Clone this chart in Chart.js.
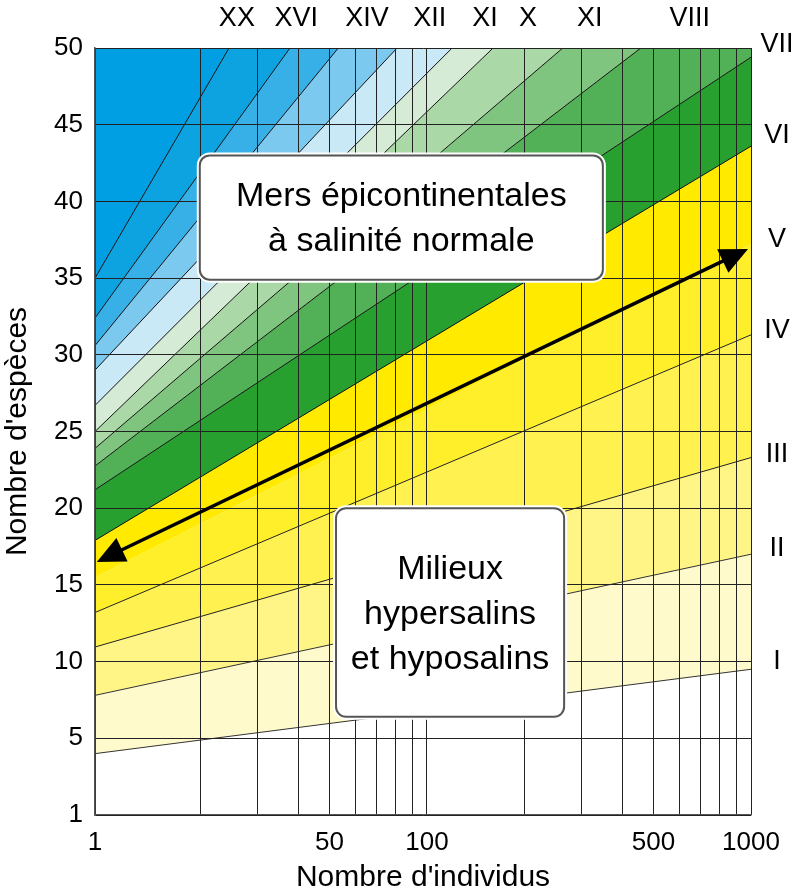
<!DOCTYPE html>
<html>
<head>
<meta charset="utf-8">
<script src="https://cdn.jsdelivr.net/npm/chart.js@4"></script>
<style>
  html, body { margin: 0; padding: 0; background: #fff; }
</style>
</head>
<body>
<canvas id="chart" width="800" height="896"></canvas>
<script>
const FONT = '"Liberation Sans", Arial, sans-serif'

// x axis: log scale, the left edge is labelled "1"
const X_MIN = 9.45
const X_MAX = 1000
const xGridValues = [X_MIN, 20, 30, 40, 50, 60, 70, 80, 90, 100, 200, 300, 400, 500, 600, 700, 800, 900, 1000]
const xTickValues = [X_MIN, 50, 100, 500, 1000]
const xTickLabels = ['1', '50', '100', '500', '1000']

// boundary lines from top-left to bottom-right: value at the left edge and at x = 1000
const leftValues  = [35.0, 32.4, 30.6, 29.0, 26.7, 25.0, 23.9, 22.75, 21.2, 17.9, 15.5, 13.2, 10.95, 7.8, 4.0]
const rightValues = [108.4, 91.6, 82.9, 74.6, 69.5, 66.2, 60.5, 55.5, 49.4, 43.6, 37.2, 31.3, 23.3, 17.0, 9.5]
// colour of the band lying above each line
const bandColors = ['#009FE3', '#0DA2E0', '#36B0E6', '#7BC9EF', '#C9E9F7', '#D6EBD6', '#AAD8A6', '#80C57F',
    '#52B157', '#27A030', '#FFEA00', '#FFEE2A', '#FFF250', '#FFF587', '#FFFACC']
const lineColors = ['#111', '#111', '#111', '#111', '#111', '#111', '#111', '#111',
    '#111', '#111', 'rgba(0,0,0,0)', '#222', '#222', '#333', '#333']

// roman numerals on top (x positions) and on the right (y positions)
const topLabels = ['XX', 'XVI', 'XIV', 'XII', 'XI', 'X', 'XI', 'VIII']
const topLabelX = [25.9, 39.5, 65.3, 102, 151, 205, 318, 647]
const rightLabels = ['VII', 'VI', 'V', 'IV', 'III', 'II', 'I']
const rightLabelY = [50.2, 44.3, 37.5, 31.6, 23.5, 17.4, 10.0]

// double arrow
const arrowFrom = { x: 9.57, y: 16.5 }
const arrowTo = { x: 979, y: 36.9 }

// text boxes (data coordinates)
const boxes = [
    { x0: 19.9, x1: 349, y0: 43.0, y1: 34.9, lines: ['Mers épicontinentales', 'à salinité normale'] },
    { x0: 52.4, x1: 265, y0: 20.0, y1: 6.4, lines: ['Milieux', 'hypersalins', 'et hyposalins'] }
]

const datasets = leftValues.map((v, i) => ({
    label: 'line ' + i,
    data: [{ x: X_MIN, y: v }, { x: X_MAX, y: rightValues[i] }],
    borderColor: lineColors[i],
    borderWidth: 1,
    backgroundColor: bandColors[i],
    fill: i === 0 ? 'end' : '-1',
    pointRadius: 0,
    tension: 0
}))

function roundRect(ctx, x, y, w, h, r) {
    ctx.beginPath()
    ctx.moveTo(x + r, y)
    ctx.lineTo(x + w - r, y)
    ctx.arcTo(x + w, y, x + w, y + r, r)
    ctx.lineTo(x + w, y + h - r)
    ctx.arcTo(x + w, y + h, x + w - r, y + h, r)
    ctx.lineTo(x + r, y + h)
    ctx.arcTo(x, y + h, x, y + h - r, r)
    ctx.lineTo(x, y + r)
    ctx.arcTo(x, y, x + r, y, r)
    ctx.closePath()
}

function arrowHead(ctx, tipX, tipY, angle, len, half) {
    ctx.save()
    ctx.translate(tipX, tipY)
    ctx.rotate(angle)
    ctx.beginPath()
    ctx.moveTo(0, 0)
    ctx.lineTo(-len, -half)
    ctx.lineTo(-len, half)
    ctx.closePath()
    ctx.fill()
    ctx.restore()
}

const overlayPlugin = {
    id: 'overlay',
    afterDraw(chart) {
        const { ctx, chartArea } = chart
        const x = chart.scales.x
        const y = chart.scales.y
        ctx.save()

        // arrow
        const ax0 = x.getPixelForValue(arrowFrom.x), ay0 = y.getPixelForValue(arrowFrom.y)
        const ax1 = x.getPixelForValue(arrowTo.x), ay1 = y.getPixelForValue(arrowTo.y)
        const ang = Math.atan2(ay1 - ay0, ax1 - ax0)
        const headLen = 28
        ctx.strokeStyle = '#000'
        ctx.fillStyle = '#000'
        ctx.lineWidth = 3.5
        ctx.beginPath()
        ctx.moveTo(ax0 + Math.cos(ang) * (headLen - 4), ay0 + Math.sin(ang) * (headLen - 4))
        ctx.lineTo(ax1 - Math.cos(ang) * (headLen - 4), ay1 - Math.sin(ang) * (headLen - 4))
        ctx.stroke()
        arrowHead(ctx, ax1, ay1, ang, headLen, 13)
        arrowHead(ctx, ax0, ay0, ang + Math.PI, headLen, 13)

        // boxes
        boxes.forEach(b => {
            const bx0 = x.getPixelForValue(b.x0), bx1 = x.getPixelForValue(b.x1)
            const by0 = y.getPixelForValue(b.y0), by1 = y.getPixelForValue(b.y1)
            roundRect(ctx, bx0, by0, bx1 - bx0, by1 - by0, 10)
            ctx.fillStyle = '#fff'
            ctx.fill()
            ctx.strokeStyle = '#fff'
            ctx.lineWidth = 6
            ctx.stroke()
            ctx.strokeStyle = '#555'
            ctx.lineWidth = 2
            ctx.stroke()
            ctx.fillStyle = '#000'
            ctx.font = '34px ' + FONT
            ctx.textAlign = 'center'
            ctx.textBaseline = 'middle'
            const cx = (bx0 + bx1) / 2, cy = (by0 + by1) / 2
            const lh = 45
            b.lines.forEach((t, i) => {
                ctx.fillText(t, cx, cy + (i - (b.lines.length - 1) / 2) * lh + 2)
            })
        })

        // roman numerals
        ctx.fillStyle = '#000'
        ctx.font = '27px ' + FONT
        ctx.textAlign = 'center'
        ctx.textBaseline = 'middle'
        topLabels.forEach((t, i) => {
            ctx.fillText(t, x.getPixelForValue(topLabelX[i]), 19)
        })
        rightLabels.forEach((t, i) => {
            ctx.fillText(t, chartArea.right + 26, y.getPixelForValue(rightLabelY[i]))
        })
        ctx.restore()
    }
}

new Chart(document.getElementById('chart'), {
    type: 'line',
    data: { datasets },
    options: {
        responsive: false,
        animation: false,
        devicePixelRatio: 1,
        layout: { padding: { top: 48, right: 49, left: 0, bottom: 0 } },
        plugins: {
            legend: { display: false },
            tooltip: { enabled: false }
        },
        scales: {
            x: {
                type: 'logarithmic',
                min: X_MIN,
                max: X_MAX,
                afterBuildTicks: axis => { axis.ticks = xGridValues.map(v => ({ value: v })) },
                afterFit: axis => { axis.height = 81 },
                grid: { color: '#222', lineWidth: 1, drawTicks: false, z: 1 },
                border: { color: '#555', width: 1.5, z: 1 },
                ticks: {
                    z: 1,
                    autoSkip: false,
                    maxRotation: 0,
                    padding: 12,
                    color: '#000',
                    font: { family: FONT, size: 26 },
                    callback: v => {
                        const k = xTickValues.indexOf(v)
                        return k >= 0 ? xTickLabels[k] : ''
                    }
                },
                title: {
                    display: true,
                    text: "Nombre d'individus",
                    color: '#000',
                    font: { family: FONT, size: 30 },
                    padding: { top: 0, bottom: 0 }
                }
            },
            y: {
                min: 0,
                max: 50,
                afterFit: axis => { axis.width = 95 },
                grid: { color: '#222', lineWidth: 1, drawTicks: false, z: 1 },
                border: { color: '#555', width: 1.5, z: 1 },
                ticks: {
                    z: 1,
                    stepSize: 5,
                    padding: 12,
                    color: '#000',
                    font: { family: FONT, size: 26 },
                    callback: v => (v === 0 ? '1' : String(v))
                },
                title: {
                    display: true,
                    text: "Nombre d'espèces",
                    color: '#000',
                    font: { family: FONT, size: 30 },
                    padding: { top: 0, bottom: 3 }
                }
            }
        }
    },
    plugins: [overlayPlugin]
})
</script>
</body>
</html>
